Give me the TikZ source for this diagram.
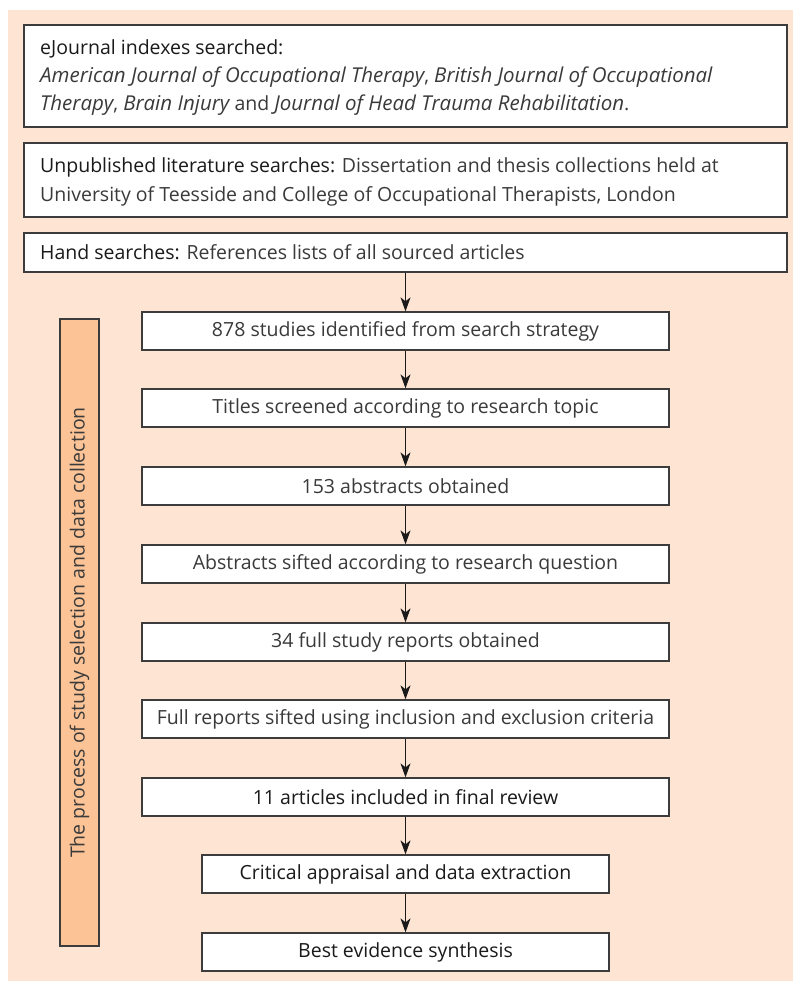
\documentclass[tikz,border=0pt]{standalone}
\usepackage{fontspec}
\setmainfont{Open Sans}
\usetikzlibrary{arrows.meta}
\definecolor{peach}{HTML}{FEE4D2}
\definecolor{barfill}{HTML}{FBC396}
\definecolor{edgec}{HTML}{3C3C3C}
\definecolor{lighttxt}{HTML}{3A3A3A}
\definecolor{darktxt}{HTML}{1A1A1A}
\newcommand{\hdw}[1]{{\color{darktxt}#1}}
\newcommand{\itx}[1]{{\fontsize{20.5}{22}\selectfont\itshape #1}}
\begin{document}
\begin{tikzpicture}[x=1pt,y=-1pt,
  box/.style={draw=edgec, line width=1.3pt, fill=white, inner sep=0pt},
  txt/.style={anchor=base west, inner sep=0pt, text=lighttxt, font=\fontsize{19.5}{22}\selectfont},
  flowbox/.style={box, minimum width=527pt, minimum height=38pt, text=lighttxt, font=\fontsize{19.5}{22}\selectfont},
  strongbox/.style={flowbox, text=darktxt},
  endbox/.style={strongbox, minimum width=407pt},
  arr/.style={draw=darktxt, line width=1.2pt, -{Stealth[length=14pt,width=10pt,inset=4pt]}},
  sidebar/.style={draw=edgec, line width=1.3pt, fill=barfill, inner sep=0pt, rotate=90,
    minimum width=627pt, minimum height=39pt, text=lighttxt, font=\fontsize{19.5}{22}\selectfont}]
\useasboundingbox (0,0) rectangle (793,981);
\fill[peach] (8,10) rectangle (793,981);

% top boxes
\node[box, minimum width=763pt, minimum height=102pt] (b1) at (405.5,76) {};
\node[txt] (b1l1) at (40,55) {\hdw{eJournal indexes searched:}};
\node[txt] (b1l2) at (40,83) {\itx{American Journal of Occupational Therapy}, \itx{British Journal of Occupational}};
\node[txt] (b1l3) at (40,111) {\itx{Therapy}, \itx{Brain Injury} and \itx{Journal of Head Trauma Rehabilitation}.};

\node[box, minimum width=763pt, minimum height=74pt] (b2) at (405.5,180) {};
\node[txt] (b2l1) at (40,173) {\hdw{Unpublished literature searches:} Dissertation and thesis collections held at};
\node[txt] (b2l2) at (40,202) {University of Teesside and College of Occupational Therapists, London};

\node[box, minimum width=763pt, minimum height=39pt] (b3) at (405.5,252.5) {};
\node[txt] (b3l1) at (40,260) {\hdw{Hand searches:} References lists of all sourced articles};

% flow
\node[flowbox] (s1) at (405.5,331) {878 studies identified from search strategy};
\node[flowbox] (s2) at (405.5,408) {Titles screened according to research topic};
\node[flowbox] (s3) at (405.5,486) {153 abstracts obtained};
\node[flowbox] (s4) at (405.5,564) {Abstracts sifted according to research question};
\node[flowbox] (s5) at (405.5,642) {34 full study reports obtained};
\node[flowbox] (s6) at (405.5,719) {Full reports sifted using inclusion and exclusion criteria};
\node[strongbox] (s7) at (405.5,797) {11 articles included in final review};
\node[endbox] (s8) at (405.5,874) {Critical appraisal and data extraction};
\node[endbox] (s9) at (405.5,952) {Best evidence synthesis};

\draw[arr] (b3.south -| s1.north) -- (s1.north);
\draw[arr] (s1) -- (s2);
\draw[arr] (s2) -- (s3);
\draw[arr] (s3) -- (s4);
\draw[arr] (s4) -- (s5);
\draw[arr] (s5) -- (s6);
\draw[arr] (s6) -- (s7);
\draw[arr] (s7) -- (s8);
\draw[arr] (s8) -- (s9);

\node[sidebar] (side) at (79.5,632.5) {The process of study selection and data collection};
\end{tikzpicture}
\end{document}
